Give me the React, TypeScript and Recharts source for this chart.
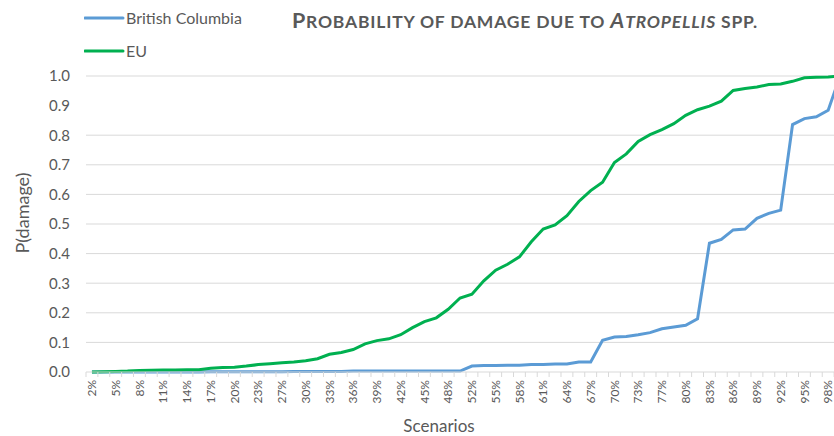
import { LineChart, Line, XAxis, YAxis, CartesianGrid, Legend } from "recharts";

// scenario labels: share of runs, 1/64 steps (only every other one is shown)
const scenarios = [
  "2%", "3%", "5%", "6%", "8%", "9%", "11%", "13%", "14%", "16%",
  "17%", "19%", "20%", "22%", "23%", "25%", "27%", "28%", "30%", "31%",
  "33%", "34%", "36%", "38%", "39%", "41%", "42%", "44%", "45%", "47%",
  "48%", "50%", "52%", "53%", "55%", "56%", "58%", "59%", "61%", "63%",
  "64%", "66%", "67%", "69%", "70%", "72%", "73%", "75%", "77%", "78%",
  "80%", "81%", "83%", "84%", "86%", "88%", "89%", "91%", "92%", "94%",
  "95%", "97%", "98%", "100%",
];

const britishColumbia = [
  0, 0, 0, 0, 0, 0, 0, 0, 0, 0,
  0.001, 0.001, 0.001, 0.001, 0.001, 0.001, 0.001, 0.002, 0.002, 0.002,
  0.002, 0.002, 0.003, 0.003, 0.003, 0.003, 0.003, 0.003, 0.003, 0.003,
  0.003, 0.003, 0.02, 0.022, 0.022, 0.023, 0.023, 0.025, 0.025, 0.027,
  0.027, 0.034, 0.034, 0.107, 0.118, 0.12, 0.126, 0.133, 0.146, 0.152,
  0.158, 0.18, 0.435, 0.448, 0.48, 0.483, 0.519, 0.536, 0.547, 0.836,
  0.856, 0.862, 0.884, 1.0,
];

const eu = [
  0, 0.001, 0.002, 0.003, 0.005, 0.006, 0.007, 0.007, 0.008, 0.008,
  0.013, 0.015, 0.016, 0.02, 0.025, 0.028, 0.031, 0.034, 0.038, 0.045,
  0.06, 0.066, 0.076, 0.095, 0.106, 0.112, 0.126, 0.15, 0.17, 0.183,
  0.212, 0.25, 0.263, 0.308, 0.344, 0.364, 0.389, 0.44, 0.483, 0.497,
  0.528, 0.576, 0.613, 0.641, 0.708, 0.737, 0.779, 0.802, 0.819, 0.839,
  0.867, 0.886, 0.898, 0.915, 0.951, 0.958, 0.963, 0.971, 0.973, 0.982,
  0.994, 0.996, 0.997, 1.0,
];

const yTicks = [0, 0.1, 0.2, 0.3, 0.4, 0.5, 0.6, 0.7, 0.8, 0.9, 1.0];
// the 0.9 gridline is not drawn in the original
const gridValues = [0.1, 0.2, 0.3, 0.4, 0.5, 0.6, 0.7, 0.8, 1.0];

const data = scenarios.map((s, i) => ({
  scenario: s,
  bc: britishColumbia[i],
  eu: eu[i],
}));

const FONT = "Lato, 'Open Sans', sans-serif";
const GREY = "#595959";
const HALF_STEP = 5.94;

function ScenarioTick(props: any) {
  const { x, y, payload } = props;
  const idx = payload.index;
  return (
    <g>
      <line x1={x - HALF_STEP} x2={x - HALF_STEP} y1={y} y2={y + 5} stroke="#d9d9d9" />
      {idx % 2 === 0 && (
        <text
          x={x}
          y={y + 8}
          dy="0.35em"
          transform={`rotate(-90 ${x} ${y + 8})`}
          textAnchor="end"
          fill={GREY}
          fontSize={12}
          fontFamily={FONT}
        >
          {payload.value}
        </text>
      )}
    </g>
  );
}

function LegendBox(props: any) {
  const items = props.payload || [];
  return (
    <div style={{ fontFamily: FONT, fontSize: 16, color: GREY }}>
      {items.map((it: any) => (
        <div key={it.value} style={{ display: "flex", alignItems: "center", height: 33 }}>
          <svg width={42} height={6}>
            <line x1={1} x2={39} y1={3} y2={3} stroke={it.color} strokeWidth={3} strokeLinecap="round" />
          </svg>
          <span>{it.value}</span>
        </div>
      ))}
    </div>
  );
}

// small caps drawn by hand: capitals at full size, the rest at 80%
const big = { fontSize: 21.5 };
const small = { fontSize: 17.5 };

export default function App() {
  return (
    <div
      style={{
        position: "fixed",
        left: 0,
        top: 0,
        width: 834,
        height: 436,
        overflow: "hidden",
        background: "#fff",
      }}
    >
      <div
        style={{
          position: "absolute",
          top: 7,
          left: 525,
          transform: "translateX(-50%)",
          whiteSpace: "nowrap",
          fontFamily: FONT,
          fontWeight: 700,
          color: GREY,
          letterSpacing: 0.8,
          zIndex: 2,
        }}
      >
        <span style={big}>P</span>
        <span style={small}>ROBABILITY OF DAMAGE DUE TO </span>
        <i>
          <span style={big}>A</span>
          <span style={small}>TROPELLIS</span>
        </i>
        <span style={small}> SPP.</span>
      </div>
      <LineChart
        width={850}
        height={436}
        data={data}
        margin={{ top: 76, right: 4, bottom: 0, left: 0 }}
      >
        <CartesianGrid vertical={false} stroke="#d9d9d9" horizontalValues={gridValues} />
        <XAxis
          dataKey="scenario"
          interval={0}
          padding={{ left: HALF_STEP, right: HALF_STEP }}
          height={64}
          stroke="#d9d9d9"
          tickLine={false}
          tickSize={0}
          tickMargin={0}
          tick={<ScenarioTick />}
          label={{
            content: () => (
              <text x={439} y={425} textAnchor="middle" dominantBaseline="central" fill={GREY} fontSize={17} fontFamily={FONT}>
                Scenarios
              </text>
            ),
          }}
        />
        <YAxis
          domain={[0, 1]}
          ticks={yTicks}
          tickFormatter={(v: number) => v.toFixed(1)}
          axisLine={false}
          tickLine={false}
          width={86}
          tickMargin={10}
          tick={{ fill: GREY, fontSize: 15, fontFamily: FONT }}
          label={{
            content: () => (
              <text
                x={22}
                y={213}
                transform="rotate(-90 22 213)"
                textAnchor="middle"
                dominantBaseline="central"
                fill={GREY}
                fontSize={18}
                fontFamily={FONT}
              >
                P(damage)
              </text>
            ),
          }}
        />
        <Legend
          layout="vertical"
          align="center"
          verticalAlign="middle"
          content={<LegendBox />}
          wrapperStyle={{ left: 84, top: 1, width: "auto" }}
        />
        <Line
          name="British Columbia"
          dataKey="bc"
          type="linear"
          stroke="#5B9BD5"
          strokeWidth={3}
          dot={false}
          isAnimationActive={false}
        />
        <Line
          name="EU"
          dataKey="eu"
          type="linear"
          stroke="#00B050"
          strokeWidth={3}
          dot={false}
          isAnimationActive={false}
        />
      </LineChart>
    </div>
  );
}
